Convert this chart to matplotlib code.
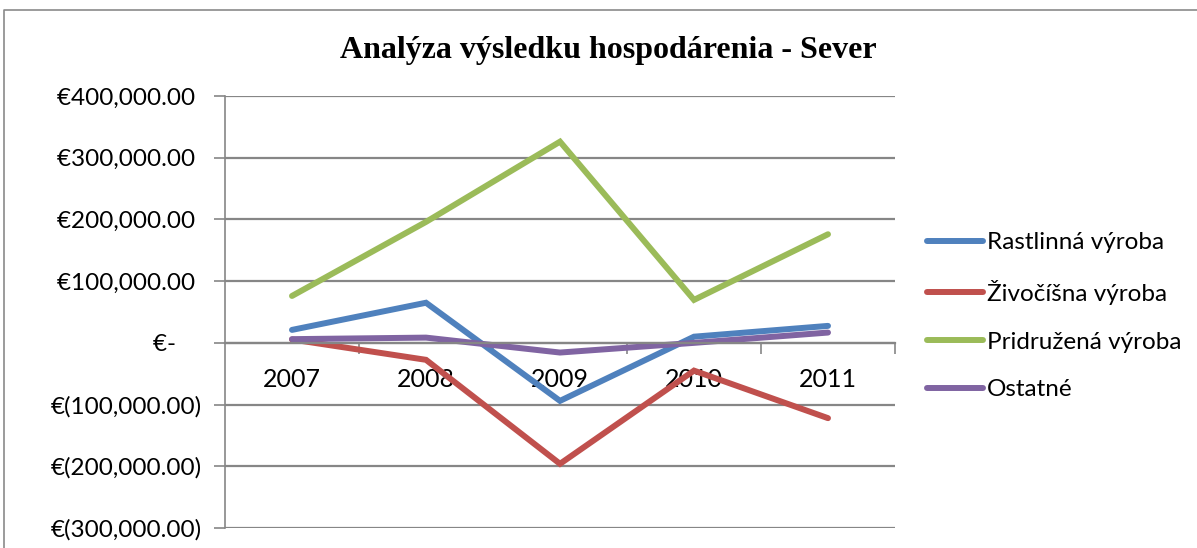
import matplotlib.pyplot as plt
from matplotlib.lines import Line2D

years = ["2007", "2008", "2009", "2010", "2011"]
series_names = ["Rastlinná výroba", "Živočíšna výroba", "Pridružená výroba", "Ostatné"]
rastlinna = [21000, 65000, -94000, 10000, 27500]
zivocisna = [5500, -27500, -196000, -45000, -122000]
pridruzena = [76000, 196000, 326000, 69600, 176000]
ostatne = [6000, 8500, -15700, 0, 16700]
colors = ["#4F81BD", "#C0504D", "#9BBB59", "#8064A2"]
y_ticks = [-300000, -200000, -100000, 0, 100000, 200000, 300000, 400000]

plt.rcParams['font.family'] = ['Lato', 'DejaVu Sans']

fig = plt.figure(figsize=(11.97, 5.48), dpi=100)
ax = fig.add_axes([225/1197, 1 - 528/548, 670/1197, 432/548])

x = list(range(1, len(years) + 1))
for vals, name, c in zip([rastlinna, zivocisna, pridruzena, ostatne], series_names, colors):
    ax.plot(x, vals, color=c, lw=4.3, label=name, solid_capstyle='round', solid_joinstyle='miter')

ax.set_xlim(0.5, len(years) + 0.5)
ax.set_ylim(-300000, 400000)

grid_c = "#868686"
ax.set_yticks(y_ticks)
def fmt(v):
    if v == 0:
        return "€-    "
    if v < 0:
        return "€({:,.2f})".format(-v)
    return "€{:,.2f} ".format(v)
ax.set_yticklabels([fmt(v) for v in y_ticks], fontsize=17.5)
ax.yaxis.grid(True, color=grid_c, lw=1.6)
ax.set_axisbelow(True)
ax.tick_params(axis='y', direction='out', length=8, width=1.2, color=grid_c, pad=9)

# category axis crossing at zero
ax.spines['bottom'].set_position(('data', 0))
ax.spines['bottom'].set_color(grid_c)
ax.spines['bottom'].set_linewidth(1.6)
ax.spines['left'].set_color(grid_c)
ax.spines['left'].set_linewidth(1.2)
ax.spines['top'].set_visible(False)
ax.spines['right'].set_visible(False)
ax.set_xticks([i + 0.5 for i in x])
ax.set_xticklabels([])
ax.tick_params(axis='x', which='major', direction='out', length=8, width=1.2, color=grid_c)
ax.set_xticks(x, minor=True)
ax.set_xticklabels(years, minor=True, fontsize=18)
ax.tick_params(axis='x', which='minor', length=0, pad=18)

fig.text(608/1197, 1 - 50/548, "Analýza výsledku hospodárenia - Sever",
         family='Liberation Serif', weight='bold', fontsize=23, ha='center', va='center')

fig.legend(loc='upper left', bbox_to_anchor=(915/1197, 1 - 220/548), frameon=False,
           fontsize=17.5, handlelength=2.3, handletextpad=0.15, labelspacing=1.1,
           borderpad=0)

fig.add_artist(Line2D([4/1197, 4/1197, 1], [0, 1 - 10/548, 1 - 10/548],
                      color="#8a8a8a", lw=1.2, transform=fig.transFigure))

fig.savefig("out.png", dpi=100)
